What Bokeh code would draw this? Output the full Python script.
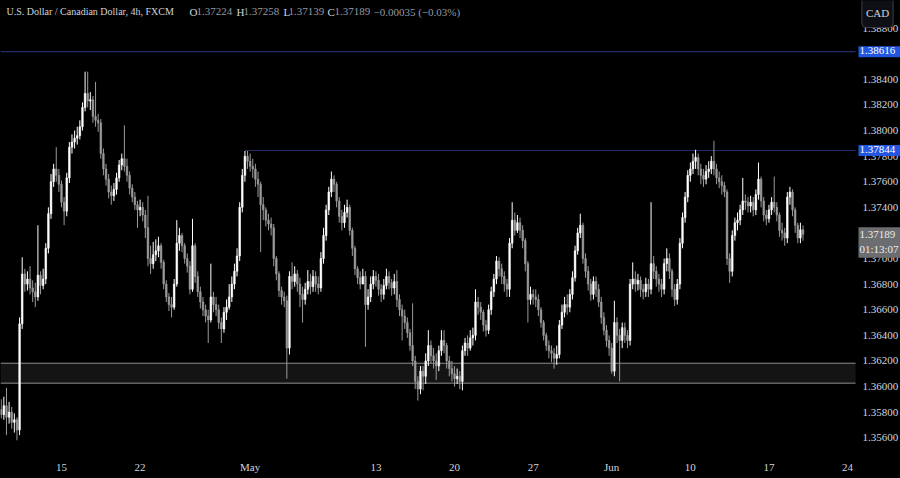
from bokeh.plotting import figure
from bokeh.models import (Range1d, FixedTicker, Label, ColumnDataSource,
                          GlobalInlineStyleSheet)
from bokeh.embed import file_html
from bokeh.resources import INLINE

# ---------------- data (USD/CAD 4h, FXCM) ----------------
first_open = 1.3582
closes = [
    1.3578, 1.3585, 1.3576, 1.3580, 1.3572, 1.3574, 1.3566, 1.3649, 1.3688, 1.3680,
    1.3684, 1.3677, 1.3674, 1.3670, 1.3687, 1.3679, 1.3684, 1.3708, 1.3735, 1.3760,
    1.3770, 1.3765, 1.3758, 1.3744, 1.3737, 1.3763, 1.3787, 1.3791, 1.3794, 1.3796,
    1.3803, 1.3818, 1.3829, 1.3823, 1.3824, 1.3811, 1.3808, 1.3806, 1.3782, 1.3770,
    1.3762, 1.3752, 1.3749, 1.3754, 1.3763, 1.3773, 1.3778, 1.3772, 1.3765, 1.3755,
    1.3748, 1.3742, 1.3738, 1.3740, 1.3734, 1.3724, 1.3700, 1.3696, 1.3703, 1.3706,
    1.3710, 1.3697, 1.3680, 1.3670, 1.3664, 1.3662, 1.3680, 1.3712, 1.3718, 1.3710,
    1.3700, 1.3694, 1.3676, 1.3710, 1.3686, 1.3674, 1.3666, 1.3660, 1.3655, 1.3652,
    1.3670, 1.3664, 1.3660, 1.3650, 1.3645, 1.3658, 1.3662, 1.3670, 1.3680, 1.3690,
    1.3702, 1.3740, 1.3765, 1.3780, 1.3776, 1.3772, 1.3770, 1.3762, 1.3758, 1.3742,
    1.3738, 1.3730, 1.3727, 1.3724, 1.3700, 1.3688, 1.3675, 1.3670, 1.3667, 1.3630,
    1.3686, 1.3682, 1.3688, 1.3680, 1.3672, 1.3668, 1.3676, 1.3682, 1.3678, 1.3686,
    1.3680, 1.3677, 1.3700, 1.3718, 1.3738, 1.3752, 1.3762, 1.3758, 1.3745, 1.3733,
    1.3728, 1.3736, 1.3740, 1.3722, 1.3708, 1.3692, 1.3685, 1.3680, 1.3686, 1.3664,
    1.3670, 1.3680, 1.3686, 1.3683, 1.3676, 1.3672, 1.3679, 1.3686, 1.3681, 1.3677,
    1.3682, 1.3668, 1.3660, 1.3655, 1.3650, 1.3642, 1.3632, 1.3620, 1.3604, 1.3598,
    1.3612, 1.3608, 1.3620, 1.3632, 1.3624, 1.3620, 1.3616, 1.3628, 1.3636, 1.3632,
    1.3620, 1.3614, 1.3610, 1.3606, 1.3608, 1.3604, 1.3628, 1.3634, 1.3630, 1.3638,
    1.3640, 1.3666, 1.3662, 1.3658, 1.3648, 1.3644, 1.3660, 1.3674, 1.3684, 1.3698,
    1.3692, 1.3686, 1.3680, 1.3676, 1.3712, 1.3730, 1.3722, 1.3728, 1.3722, 1.3714,
    1.3696, 1.3668, 1.3672, 1.3670, 1.3668, 1.3660, 1.3650, 1.3640, 1.3632, 1.3628,
    1.3626, 1.3622, 1.3625, 1.3648, 1.3658, 1.3664, 1.3662, 1.3672, 1.3685, 1.3706,
    1.3720, 1.3726, 1.3700, 1.3690, 1.3680, 1.3672, 1.3682, 1.3676, 1.3666, 1.3654,
    1.3644, 1.3636, 1.3630, 1.3612, 1.3650, 1.3640, 1.3636, 1.3646, 1.3640, 1.3636,
    1.3680, 1.3684, 1.3680, 1.3683, 1.3676, 1.3674, 1.3680, 1.3676, 1.3696, 1.3690,
    1.3684, 1.3680, 1.3676, 1.3696, 1.3700, 1.3690, 1.3676, 1.3668, 1.3680, 1.3712,
    1.3732, 1.3748, 1.3765, 1.3770, 1.3776, 1.3779, 1.3770, 1.3765, 1.3762, 1.3768,
    1.3770, 1.3776, 1.3770, 1.3763, 1.3760, 1.3757, 1.3752, 1.3700, 1.3690, 1.3718,
    1.3728, 1.3730, 1.3738, 1.3745, 1.3744, 1.3741, 1.3744, 1.3738, 1.3750, 1.3762,
    1.3745, 1.3734, 1.3731, 1.3738, 1.3744, 1.3740, 1.3734, 1.3722, 1.3720, 1.3716,
    1.3748, 1.3752, 1.3738, 1.3726, 1.3716, 1.37224, 1.37189,
]
highs = [
    1.3590, 1.3592, 1.3599, 1.3588, 1.3584, 1.3579, 1.3576, 1.3654, 1.3701, 1.3692,
    1.3690, 1.3694, 1.3683, 1.3681, 1.3726, 1.3690, 1.3692, 1.3712, 1.3740, 1.3766,
    1.3774, 1.3787, 1.3770, 1.3761, 1.3748, 1.3767, 1.3791, 1.3797, 1.3800, 1.3803,
    1.3808, 1.3822, 1.3846, 1.3846, 1.3830, 1.3827, 1.3838, 1.3813, 1.3809, 1.3786,
    1.3774, 1.3766, 1.3757, 1.3759, 1.3767, 1.3777, 1.3782, 1.3804, 1.3778, 1.3768,
    1.3758, 1.3752, 1.3745, 1.3746, 1.3744, 1.3738, 1.3749, 1.3710, 1.3713, 1.3715,
    1.3717, 1.3712, 1.3699, 1.3683, 1.3673, 1.3670, 1.3684, 1.3730, 1.3724, 1.3720,
    1.3712, 1.3704, 1.3698, 1.3731, 1.3712, 1.3690, 1.3678, 1.3670, 1.3664, 1.3660,
    1.3696, 1.3674, 1.3670, 1.3664, 1.3654, 1.3662, 1.3668, 1.3680, 1.3686, 1.3696,
    1.3708, 1.3744, 1.3770, 1.3784, 1.3784, 1.3782, 1.3778, 1.3774, 1.3768, 1.3760,
    1.3748, 1.3740, 1.3735, 1.3732, 1.3727, 1.3702, 1.3690, 1.3678, 1.3674, 1.3671,
    1.3690, 1.3697, 1.3694, 1.3691, 1.3685, 1.3678, 1.3681, 1.3691, 1.3688, 1.3691,
    1.3690, 1.3686, 1.3705, 1.3724, 1.3742, 1.3756, 1.3768, 1.3765, 1.3760, 1.3748,
    1.3738, 1.3742, 1.3746, 1.3742, 1.3724, 1.3710, 1.3694, 1.3690, 1.3692, 1.3690,
    1.3676, 1.3686, 1.3691, 1.3690, 1.3688, 1.3680, 1.3684, 1.3692, 1.3690, 1.3684,
    1.3688, 1.3691, 1.3672, 1.3664, 1.3660, 1.3654, 1.3645, 1.3665, 1.3624, 1.3608,
    1.3616, 1.3616, 1.3626, 1.3644, 1.3636, 1.3630, 1.3626, 1.3632, 1.3644, 1.3644,
    1.3634, 1.3624, 1.3620, 1.3616, 1.3614, 1.3612, 1.3632, 1.3638, 1.3640, 1.3644,
    1.3646, 1.3676, 1.3670, 1.3666, 1.3660, 1.3652, 1.3664, 1.3678, 1.3688, 1.3702,
    1.3701, 1.3696, 1.3690, 1.3684, 1.3716, 1.3744, 1.3736, 1.3734, 1.3732, 1.3726,
    1.3716, 1.3698, 1.3678, 1.3676, 1.3676, 1.3672, 1.3662, 1.3652, 1.3642, 1.3636,
    1.3632, 1.3630, 1.3632, 1.3652, 1.3664, 1.3670, 1.3672, 1.3676, 1.3690, 1.3710,
    1.3724, 1.3735, 1.3728, 1.3704, 1.3694, 1.3684, 1.3686, 1.3686, 1.3680, 1.3670,
    1.3658, 1.3648, 1.3640, 1.3634, 1.3667, 1.3654, 1.3645, 1.3650, 1.3650, 1.3644,
    1.3684, 1.3697, 1.3690, 1.3688, 1.3686, 1.3680, 1.3685, 1.3684, 1.3744, 1.3702,
    1.3694, 1.3688, 1.3684, 1.3700, 1.3708, 1.3704, 1.3692, 1.3680, 1.3684, 1.3716,
    1.3736, 1.3752, 1.3769, 1.3775, 1.3782, 1.3785, 1.3782, 1.3774, 1.3770, 1.3773,
    1.3776, 1.3780, 1.3792, 1.3774, 1.3768, 1.3765, 1.3760, 1.3754, 1.3704, 1.3722,
    1.3732, 1.3736, 1.3742, 1.3763, 1.3750, 1.3748, 1.3749, 1.3748, 1.3754, 1.3775,
    1.3764, 1.3748, 1.3738, 1.3742, 1.3748, 1.3764, 1.3744, 1.3736, 1.3728, 1.3724,
    1.3752, 1.3756, 1.3754, 1.3740, 1.3728, 1.3728, 1.37258,
]
lows = [
    1.3575, 1.3574, 1.3562, 1.3571, 1.3567, 1.3564, 1.3558, 1.3562, 1.3645, 1.3674,
    1.3675, 1.3672, 1.3666, 1.3662, 1.3667, 1.3672, 1.3676, 1.3680, 1.3704, 1.3731,
    1.3756, 1.3760, 1.3752, 1.3740, 1.3726, 1.3733, 1.3759, 1.3782, 1.3786, 1.3789,
    1.3793, 1.3800, 1.3815, 1.3818, 1.3816, 1.3806, 1.3803, 1.3799, 1.3778, 1.3765,
    1.3757, 1.3747, 1.3742, 1.3745, 1.3750, 1.3760, 1.3769, 1.3768, 1.3760, 1.3750,
    1.3744, 1.3738, 1.3724, 1.3733, 1.3729, 1.3716, 1.3694, 1.3688, 1.3692, 1.3698,
    1.3701, 1.3692, 1.3676, 1.3666, 1.3659, 1.3654, 1.3660, 1.3678, 1.3706, 1.3705,
    1.3696, 1.3689, 1.3672, 1.3674, 1.3681, 1.3670, 1.3661, 1.3655, 1.3650, 1.3634,
    1.3650, 1.3658, 1.3655, 1.3645, 1.3634, 1.3642, 1.3652, 1.3660, 1.3666, 1.3676,
    1.3686, 1.3698, 1.3736, 1.3760, 1.3770, 1.3768, 1.3763, 1.3756, 1.3748, 1.3705,
    1.3730, 1.3725, 1.3722, 1.3718, 1.3694, 1.3683, 1.3670, 1.3664, 1.3662, 1.3606,
    1.3625, 1.3676, 1.3678, 1.3674, 1.3662, 1.3650, 1.3664, 1.3672, 1.3672, 1.3674,
    1.3674, 1.3672, 1.3674, 1.3696, 1.3714, 1.3734, 1.3748, 1.3752, 1.3740, 1.3728,
    1.3722, 1.3724, 1.3732, 1.3718, 1.3702, 1.3687, 1.3680, 1.3676, 1.3680, 1.3631,
    1.3660, 1.3666, 1.3676, 1.3678, 1.3671, 1.3666, 1.3668, 1.3676, 1.3676, 1.3671,
    1.3672, 1.3662, 1.3655, 1.3636, 1.3645, 1.3638, 1.3628, 1.3616, 1.3598, 1.3589,
    1.3594, 1.3597, 1.3602, 1.3616, 1.3618, 1.3614, 1.3605, 1.3612, 1.3624, 1.3626,
    1.3614, 1.3608, 1.3604, 1.3600, 1.3602, 1.3598, 1.3597, 1.3624, 1.3624, 1.3628,
    1.3632, 1.3636, 1.3656, 1.3652, 1.3643, 1.3639, 1.3641, 1.3656, 1.3670, 1.3680,
    1.3686, 1.3680, 1.3674, 1.3670, 1.3670, 1.3708, 1.3718, 1.3720, 1.3716, 1.3708,
    1.3690, 1.3650, 1.3664, 1.3664, 1.3662, 1.3655, 1.3646, 1.3636, 1.3628, 1.3622,
    1.3619, 1.3614, 1.3617, 1.3622, 1.3645, 1.3654, 1.3656, 1.3658, 1.3668, 1.3682,
    1.3703, 1.3716, 1.3696, 1.3685, 1.3675, 1.3667, 1.3668, 1.3670, 1.3662, 1.3649,
    1.3640, 1.3631, 1.3624, 1.3610, 1.3608, 1.3634, 1.3604, 1.3630, 1.3634, 1.3630,
    1.3632, 1.3676, 1.3674, 1.3675, 1.3670, 1.3668, 1.3670, 1.3670, 1.3672, 1.3684,
    1.3678, 1.3674, 1.3670, 1.3672, 1.3690, 1.3684, 1.3670, 1.3663, 1.3664, 1.3676,
    1.3708, 1.3728, 1.3744, 1.3760, 1.3766, 1.3770, 1.3765, 1.3758, 1.3756, 1.3758,
    1.3763, 1.3766, 1.3765, 1.3758, 1.3755, 1.3750, 1.3748, 1.3695, 1.3681, 1.3686,
    1.3714, 1.3722, 1.3726, 1.3734, 1.3738, 1.3736, 1.3736, 1.3733, 1.3734, 1.3746,
    1.3740, 1.3729, 1.3726, 1.3728, 1.3734, 1.3736, 1.3729, 1.3717, 1.3714, 1.3710,
    1.3712, 1.3742, 1.3733, 1.3720, 1.3712, 1.3712, 1.37139,
]
opens = [first_open] + closes[:-1]

x_tick_idx = [23, 53, 95, 143, 173, 203, 233, 263, 293, 323]
x_tick_labels = ["15", "22", "May", "13", "20", "27", "Jun", "10", "17", "24"]
y_ticks = [1.356, 1.358, 1.360, 1.362, 1.364, 1.366, 1.368, 1.370, 1.372,
           1.374, 1.376, 1.378, 1.380, 1.382, 1.384, 1.386, 1.388]
upper_level = 1.38616
mid_level = 1.37844
mid_level_start = 93          # candle index of the early-May high
zone_bottom, zone_top = 1.36026, 1.36182
countdown = "01:13:07"
symbol_title = "U.S. Dollar / Canadian Dollar, 4h, FXCM"
quote_ccy = "CAD"

# ---------------- styling ----------------
FONT = "Liberation Sans Narrow"
BG = "#000000"
UP = "#ffffff"
DOWN = "#9a9a9a"
TXT = "#d1d4dc"
VAL = "#9598a1"
LEVEL = "#272c68"
TAG = "#2256e0"
PLOT_END = 326.05             # right edge of the price pane (candle units)
XR = (-0.28, 343.2)           # frame also covers the price-scale column
YR = (1.35461, 1.39016)
W, H_FIG, BOTTOM = 900, 478, 23
FRAME_H = H_FIG - BOTTOM
SCALE_X = 862                 # left of price-scale texts (px)
TAG_X = 858

p = figure(width=W, height=H_FIG, output_backend="svg", toolbar_location=None,
           x_range=Range1d(*XR), y_range=Range1d(*YR),
           background_fill_color=BG, border_fill_color=BG, outline_line_color=None,
           min_border_left=0, min_border_top=0, min_border_right=0,
           min_border_bottom=BOTTOM)
p.stylesheets = [GlobalInlineStyleSheet(css="html, body { background-color: #000000; }")]
p.xgrid.visible = False
p.ygrid.visible = False
p.yaxis.visible = False

xa = p.xaxis[0]
xa.axis_line_color = None
xa.major_tick_line_color = None
xa.minor_tick_line_color = None
xa.major_tick_out = 0
xa.major_tick_in = 0
xa.minor_tick_out = 0
xa.major_label_text_color = TXT
xa.major_label_text_font = FONT
xa.major_label_text_font_size = "11px"
xa.major_label_standoff = 5
xa.ticker = FixedTicker(ticks=x_tick_idx)
xa.major_label_overrides = {t: s for t, s in zip(x_tick_idx, x_tick_labels)}

# support zone
p.quad(left=[XR[0]], right=[PLOT_END], bottom=[zone_bottom], top=[zone_top],
       fill_color="#141414", line_color=None)
p.segment(x0=[XR[0], XR[0]], x1=[PLOT_END, PLOT_END], y0=[zone_bottom, zone_top],
          y1=[zone_bottom, zone_top], line_color="#8e8e8e", line_width=1)

# resistance lines
p.segment(x0=[XR[0], mid_level_start], x1=[PLOT_END, PLOT_END],
          y0=[upper_level, mid_level], y1=[upper_level, mid_level],
          line_color=LEVEL, line_width=1.2)

# candles
idx = list(range(len(closes)))
colors = [UP if c >= o else DOWN for o, c in zip(opens, closes)]
src = ColumnDataSource(dict(
    x=idx, h=[max(h, o, c) for h, o, c in zip(highs, opens, closes)],
    l=[min(l, o, c) for l, o, c in zip(lows, opens, closes)],
    top=[max(o, c) for o, c in zip(opens, closes)],
    bottom=[min(o, c) for o, c in zip(opens, closes)], color=colors))
p.segment(x0="x", y0="l", x1="x", y1="h", line_color="color", line_width=1, source=src)
p.vbar(x="x", width=0.62, top="top", bottom="bottom", fill_color="color",
       line_color="color", line_width=0.6, source=src)

# price scale texts
for t in y_ticks:
    p.add_layout(Label(x=SCALE_X, x_units="screen", y=t, text=f"{t:.5f}",
                       text_align="left", text_baseline="middle", text_color=TXT,
                       text_font=FONT, text_font_size="11px", level="overlay"))

# price tags
for lv in (upper_level, mid_level):
    p.add_layout(Label(x=TAG_X, x_units="screen", y=lv, text=f"{lv:.5f}",
                       text_align="left", text_baseline="middle", text_color="#ffffff",
                       text_font=FONT, text_font_size="11px", background_fill_color=TAG,
                       padding=(1, 9, 1, 3), level="overlay"))
p.add_layout(Label(x=TAG_X, x_units="screen", y=closes[-1], y_offset=7,
                   text=f"{closes[-1]:.5f}\n{countdown}", text_align="left",
                   text_baseline="top", text_color="#ececec", text_font=FONT,
                   text_font_size="11px", background_fill_color="#6b6d70",
                   padding=(1, 9, 1, 3), level="overlay"))

# header
o, h, l, c = opens[-1], highs[-1], lows[-1], closes[-1]
chg = c - o
pct = chg / o * 100
header = [
    (symbol_title, TXT, 6, "10px"),
    ("O", TXT, 189, "11px"), (f"{o:.5f}", VAL, 196, "11px"),
    ("H", TXT, 236, "11px"), (f"{h:.5f}", VAL, 243, "11px"),
    ("L", TXT, 283, "11px"), (f"{l:.5f}", VAL, 288, "11px"),
    ("C", TXT, 327, "11px"), (f"{c:.5f}", VAL, 334, "11px"),
    (f"\u2212{abs(chg):.5f} (\u2212{abs(pct):.2f}%)", VAL, 373, "11px"),
]
for text, col, xs, fs in header:
    p.add_layout(Label(x=xs, y=FRAME_H - 11, x_units="screen", y_units="screen",
                       text=text, text_color=col, text_font=FONT,
                       text_font_size=fs, text_baseline="middle",
                       text_align="left", level="overlay"))

# currency button
p.add_layout(Label(x=877, y=FRAME_H - 12, x_units="screen", y_units="screen",
                   text=quote_ccy, text_color=TXT, text_font=FONT,
                   text_font_size="11px", text_align="center", text_baseline="middle",
                   background_fill_color="#0d0f14", border_line_color="#3a3e48",
                   padding=(4, 9), border_radius=4, level="overlay"))

open("out.html", "w").write(file_html(p, INLINE))
